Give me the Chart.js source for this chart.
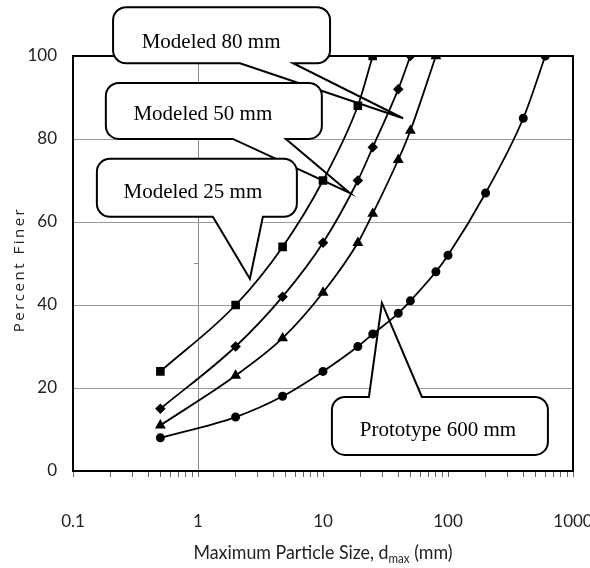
<!DOCTYPE html>
<html>
<head>
<meta charset="utf-8">
<script src="https://cdn.jsdelivr.net/npm/chart.js@4/dist/chart.umd.min.js"></script>
<style>
  html, body { margin: 0; padding: 0; background: #fff; }
</style>
</head>
<body>
<canvas id="gradation" width="590" height="568"></canvas>
<script>
/* =====================
   データ: 粒径 (mm) と 通過百分率 (%)
===================== */
const sizeM25   = [0.5, 2, 4.75, 10, 19, 25];
const finerM25  = [24, 40, 54, 70, 88, 100];

const sizeM50   = [0.5, 2, 4.75, 10, 19, 25, 40, 50];
const finerM50  = [15, 30, 42, 55, 70, 78, 92, 100];

const sizeM80   = [0.5, 2, 4.75, 10, 19, 25, 40, 50, 80];
const finerM80  = [11, 23, 32, 43, 55, 62, 75, 82, 100];

const sizeP600  = [0.5, 2, 4.75, 10, 19, 25, 40, 50, 80, 100, 200, 400, 600];
const finerP600 = [8, 13, 18, 24, 30, 33, 38, 41, 48, 52, 67, 85, 100];

const xTickLabels = ['0.1', '1', '10', '100', '1000'];
const yTickLabels = [0, 20, 40, 60, 80, 100];

// callouts: text and the point each one aims at (data units)
const calloutText = ['Modeled 80 mm', 'Modeled 50 mm', 'Modeled 25 mm', 'Prototype 600 mm'];
const calloutTipX = [43.7, 16.4, 2.6, 29.6];
const calloutTipY = [85, 67, 46.3, 40.5];

/* =====================
   レイアウト (px, relative to the tip)
===================== */
const calloutBoxes = [
  { l: -290, r: -73, t: -111, b: -55, w1: -163, w2: -110, side: 'bottom', tx: -192, ty: -76 },
  { l: -244, r: -28, t: -110, b: -54, w1: -117, w2: -64,  side: 'bottom', tx: -147, ty: -78 },
  { l: -153, r: 47,  t: -120, b: -62, w1: -37,  w2: 13,   side: 'bottom', tx: -57,  ty: -86 },
  { l: -50,  r: 166, t: 94,   b: 152, w1: -13,  w2: 40,   side: 'top',    tx: 56,   ty: 128 }
];

const SANS = "Lato, 'Open Sans', sans-serif";

// minor ticks 0.1 .. 1000 (1..9 per decade)
const xTickValues = [];
[0.1, 1, 10, 100].forEach(d => {
    for (let k = 1; k <= 9; k++) xTickValues.push(Math.round(d * k * 1000) / 1000);
});
xTickValues.push(1000);

function toPoints(xs, ys) {
    return xs.map((x, i) => ({ x: x, y: ys[i] }));
}

function makeSeries(label, xs, ys, style, radius) {
    return {
        label,
        data: toPoints(xs, ys),
        borderColor: '#000',
        backgroundColor: '#000',
        borderWidth: 1.8,
        pointStyle: style,
        pointRadius: radius,
        pointHoverRadius: radius,
        cubicInterpolationMode: 'monotone',
        fill: false
    };
}

function drawCallout(ctx, px, py, b, text) {
    const L = px + b.l, R = px + b.r, T = py + b.t, B = py + b.b, r = 13;
    const w1 = px + b.w1, w2 = px + b.w2;
    ctx.beginPath();
    ctx.moveTo(L + r, T);
    if (b.side === 'top') { ctx.lineTo(w1, T); ctx.lineTo(px, py); ctx.lineTo(w2, T); }
    ctx.lineTo(R - r, T);
    ctx.arcTo(R, T, R, T + r, r);
    ctx.lineTo(R, B - r);
    ctx.arcTo(R, B, R - r, B, r);
    if (b.side === 'bottom') { ctx.lineTo(w2, B); ctx.lineTo(px, py); ctx.lineTo(w1, B); }
    ctx.lineTo(L + r, B);
    ctx.arcTo(L, B, L, B - r, r);
    ctx.lineTo(L, T + r);
    ctx.arcTo(L, T, L + r, T, r);
    ctx.closePath();
    ctx.fillStyle = '#fff';
    ctx.fill();
    ctx.lineWidth = 2;
    ctx.lineJoin = 'miter';
    ctx.strokeStyle = '#000';
    ctx.stroke();
    ctx.fillStyle = '#000';
    ctx.font = "21px 'Liberation Serif', 'DejaVu Serif', serif";
    ctx.textAlign = 'center';
    ctx.textBaseline = 'middle';
    ctx.fillText(text, px + b.tx, py + b.ty);
}

// 枠線 + 吹き出し + 軸タイトル
const frameAndNotes = {
    id: 'frameAndNotes',
    beforeDatasetsDraw(chart) {
        const { ctx, chartArea: a, scales: { x, y } } = chart;
        ctx.save();
        ctx.strokeStyle = '#000';
        ctx.lineWidth = 2;
        ctx.beginPath();
        ctx.moveTo(a.left, a.top);
        ctx.lineTo(a.right, a.top);
        ctx.lineTo(a.right, a.bottom);
        ctx.stroke();
        // small minor mark on the crossing line at x = 1
        ctx.strokeStyle = '#8c8c8c';
        ctx.lineWidth = 1;
        const xc = x.getPixelForValue(1), ym = y.getPixelForValue(50);
        ctx.beginPath(); ctx.moveTo(xc - 4, ym); ctx.lineTo(xc, ym); ctx.stroke();
        calloutText.forEach((t, i) => {
            drawCallout(ctx, x.getPixelForValue(calloutTipX[i]), y.getPixelForValue(calloutTipY[i]), calloutBoxes[i], t);
        });
        ctx.restore();
    },
    afterDraw(chart) {
        const { ctx, chartArea: a } = chart;
        ctx.save();
        ctx.fillStyle = '#222';
        // x title with subscript (squeezed a bit, the original font is narrow)
        const big = '20px ' + SANS, small = '13px ' + SANS;
        const p1 = 'Maximum Particle Size, d', p2 = 'max', p3 = ' (mm)';
        ctx.font = big; const w1 = ctx.measureText(p1).width; const w3 = ctx.measureText(p3).width;
        ctx.font = small; const w2 = ctx.measureText(p2).width;
        const total = w1 + w2 + w3;
        const squeeze = 259 / total;
        ctx.save();
        ctx.translate((a.left + a.right) / 2 - 259 / 2, 559);
        ctx.scale(squeeze, 1);
        ctx.textAlign = 'left';
        ctx.textBaseline = 'alphabetic';
        let sx = 0;
        ctx.font = big; ctx.fillText(p1, sx, 0); sx += w1;
        ctx.font = small; ctx.fillText(p2, sx, 4); sx += w2;
        ctx.font = big; ctx.fillText(p3, sx, 0);
        ctx.restore();
        // y title
        ctx.translate(20, (a.top + a.bottom) / 2 + 6);
        ctx.rotate(-Math.PI / 2);
        ctx.font = "15px 'Open Sans', sans-serif";
        ctx.letterSpacing = '2.5px';
        ctx.textAlign = 'center';
        ctx.textBaseline = 'middle';
        ctx.fillText('Percent Finer', 0, 0);
        ctx.restore();
    }
};

new Chart(document.getElementById('gradation'), {
    type: 'line',
    data: {
        datasets: [
            makeSeries('Modeled 25 mm', sizeM25, finerM25, 'rect', 4.8),
            makeSeries('Modeled 50 mm', sizeM50, finerM50, 'rectRot', 4),
            makeSeries('Modeled 80 mm', sizeM80, finerM80, 'triangle', 4.5),
            makeSeries('Prototype 600 mm', sizeP600, finerP600, 'circle', 3.6)
        ]
    },
    plugins: [frameAndNotes],
    options: {
        responsive: false,
        animation: false,
        layout: { padding: { top: 56, right: 17, left: 0, bottom: 0 } },
        plugins: { legend: { display: false }, tooltip: { enabled: false } },
        scales: {
            x: {
                type: 'logarithmic',
                min: 0.1,
                max: 1000,
                afterBuildTicks: function(s) { s.ticks = xTickValues.map(v => ({ value: v })); },
                afterFit: function(s) { s.height = 97; s.paddingLeft = 0; s.paddingRight = 0; },
                ticks: {
                    autoSkip: false,
                    maxRotation: 0,
                    padding: 34,
                    color: '#222',
                    font: { family: SANS, size: 17 },
                    callback: function(v) {
                        const i = xTickLabels.findIndex(l => Math.abs(parseFloat(l) - v) < 1e-9);
                        return i === -1 ? '' : xTickLabels[i];
                    }
                },
                grid: {
                    color: c => (c.tick && c.tick.value === 1) ? '#8c8c8c' : 'rgba(0,0,0,0)',
                    tickColor: '#666',
                    tickLength: 6,
                    lineWidth: 1
                },
                border: { color: '#000', width: 2 }
            },
            y: {
                min: 0,
                max: 100,
                afterBuildTicks: function(s) { s.ticks = yTickLabels.map(v => ({ value: v })); },
                afterFit: function(s) { s.width = 73; s.paddingTop = 0; s.paddingBottom = 0; },
                ticks: {
                    padding: 16,
                    color: '#222',
                    font: { family: SANS, size: 17 }
                },
                grid: { color: '#9a9a9a', drawTicks: false, lineWidth: 1 },
                border: { color: '#000', width: 2 }
            }
        }
    }
});
</script>
</body>
</html>
